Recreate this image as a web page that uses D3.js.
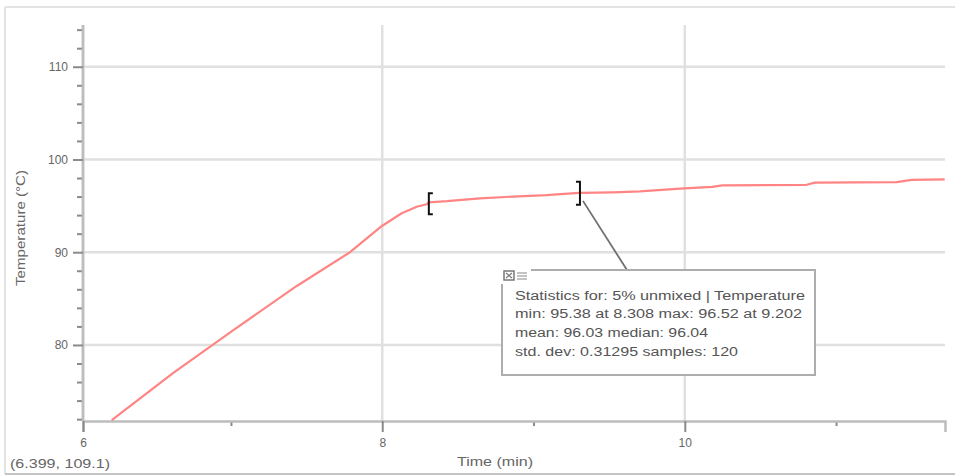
<!DOCTYPE html>
<html>
<head>
<meta charset="utf-8">
<script src="https://cdn.jsdelivr.net/npm/d3@7"></script>
<style>
  html, body { margin: 0; padding: 0; background: #fff; }
  svg { display: block; font-family: "Liberation Sans", Arial, sans-serif; }
</style>
</head>
<body>
<svg id="chart" width="955" height="476"></svg>
<script>
// ---- data ----
const timeMin = [6.212, 6.619, 7.016, 7.435, 7.787, 7.998, 8.129, 8.228, 8.294, 8.308,
                 8.428, 8.646, 8.864, 9.089, 9.202, 9.307, 9.525, 9.703, 9.968, 10.18, 10.25, 10.80, 10.86, 11.40, 11.50, 11.718];
const temperature = [71.9, 77.0, 81.6, 86.36, 90.0, 92.83, 94.2, 94.9, 95.17, 95.38,
                     95.5, 95.8, 96.0, 96.15, 96.3, 96.4, 96.45, 96.55, 96.85, 97.05, 97.2, 97.25, 97.5, 97.55, 97.8, 97.85];
const yMajorTicks = [80, 90, 100, 110];
const yMinorTicks = [72, 74, 76, 78, 82, 84, 86, 88, 92, 94, 96, 98, 102, 104, 106, 108, 112, 114];
const xMajorTicks = [6, 8, 10];
const xMinorTicks = [7, 9, 11];
const statRange = [8.308, 9.307];
const statLines = [
  "Statistics for: 5% unmixed | Temperature",
  "min: 95.38 at 8.308 max: 96.52 at 9.202",
  "mean: 96.03 median: 96.04",
  "std. dev: 0.31295 samples: 120"
];
const yLabel = "Temperature (°C)";
const xLabel = "Time (min)";
const cursorLabel = "(6.399, 109.1)";

// ---- layout ----
const svg = d3.select("#chart");
const x = d3.scaleLinear().domain([6.022, 11.72]).range([83, 945]).clamp(true);
const y = d3.scaleLinear().domain([71.8, 114.5]).range([421, 25]);
const textCol = "#666";

// outer frame
svg.append("line").attr("x1", 5).attr("x2", 955).attr("y1", 7).attr("y2", 7)
  .attr("stroke", "#e3e3e3").attr("stroke-width", 2);
svg.append("line").attr("x1", 5).attr("x2", 5).attr("y1", 7).attr("y2", 474)
  .attr("stroke", "#e3e3e3").attr("stroke-width", 2);
svg.append("line").attr("x1", 5).attr("x2", 955).attr("y1", 474).attr("y2", 474)
  .attr("stroke", "#c4c4c4").attr("stroke-width", 2);

// gridlines
const grid = svg.append("g");
grid.selectAll("line.h").data(yMajorTicks).join("line").attr("class", "h")
  .attr("x1", 83).attr("x2", 945).attr("y1", d => y(d)).attr("y2", d => y(d))
  .attr("stroke", "#e0e0e0").attr("stroke-width", 2.5);
grid.selectAll("line.v").data(xMajorTicks.filter(d => d > 6)).join("line").attr("class", "v")
  .attr("x1", d => x(d)).attr("x2", d => x(d)).attr("y1", 25).attr("y2", 421)
  .attr("stroke", "#e0e0e0").attr("stroke-width", 2.5);

// y axis
const yAxisMinor = svg.append("g").attr("transform", "translate(83,0)")
  .call(d3.axisLeft(y).tickValues(yMinorTicks).tickSize(6).tickFormat(""));
const yAxis = svg.append("g").attr("transform", "translate(83,0)")
  .call(d3.axisLeft(y).tickValues(yMajorTicks).tickSize(10).tickPadding(5).tickFormat(d3.format("d")));
// x axis
const xAxisMinor = svg.append("g").attr("transform", "translate(0,421)")
  .call(d3.axisBottom(x).tickValues(xMinorTicks).tickSize(5).tickFormat(""));
const xAxis = svg.append("g").attr("transform", "translate(0,421)")
  .call(d3.axisBottom(x).tickValues(xMajorTicks).tickSize(11).tickPadding(6).tickFormat(d3.format("d")));

[yAxis, yAxisMinor, xAxis, xAxisMinor].forEach(g => {
  g.select(".domain").attr("stroke", "#bdbdbd").attr("stroke-width", 2.5);
  g.selectAll(".tick line").attr("stroke", "#8a8a8a").attr("stroke-width", 2);
  g.selectAll(".tick text").attr("fill", textCol).attr("font-size", 12)
    .attr("font-family", "Liberation Sans, Arial, sans-serif");
});
yAxis.select(".domain").attr("d", "M0,25V421");
yAxisMinor.select(".domain").attr("d", "M0,25V421");
xAxisMinor.select(".domain").remove();

// axis labels
svg.append("text").attr("transform", "translate(22,228) rotate(-90)")
  .attr("text-anchor", "middle").attr("dominant-baseline", "middle")
  .attr("font-size", 12).attr("fill", textCol)
  .attr("textLength", 116).attr("lengthAdjust", "spacingAndGlyphs").text(yLabel);
svg.append("text").attr("x", 495).attr("y", 463)
  .attr("text-anchor", "middle").attr("dominant-baseline", "middle")
  .attr("font-size", 12).attr("fill", textCol)
  .attr("textLength", 76).attr("lengthAdjust", "spacingAndGlyphs").text(xLabel);
svg.append("text").attr("x", 10).attr("y", 465)
  .attr("dominant-baseline", "middle")
  .attr("font-size", 12).attr("fill", textCol)
  .attr("textLength", 100).attr("lengthAdjust", "spacingAndGlyphs").text(cursorLabel);

// data line
const line = d3.line().x((d, i) => x(timeMin[i])).y(d => y(d));
svg.append("path").datum(temperature)
  .attr("d", line).attr("fill", "none")
  .attr("stroke", "#ff8585").attr("stroke-width", 2.2)
  .attr("stroke-linejoin", "round");

// range brackets
const bx0 = x(statRange[0]), bx1 = x(statRange[1]);
const by0 = y(95.4), by1 = y(96.4);
svg.append("path")
  .attr("d", `M${bx0 + 4},${by0 - 9}H${bx0}V${by0 + 12}H${bx0 + 4}`)
  .attr("fill", "none").attr("stroke", "#111").attr("stroke-width", 2);
svg.append("path")
  .attr("d", `M${bx1 - 4},${by1 - 11}H${bx1}V${by1 + 12}H${bx1 - 4}`)
  .attr("fill", "none").attr("stroke", "#111").attr("stroke-width", 2);

// callout line
svg.append("line").attr("x1", bx1 + 3).attr("y1", by1 + 8).attr("x2", 627).attr("y2", 270)
  .attr("stroke", "#707070").attr("stroke-width", 1.8);

// stats box
const box = svg.append("g");
box.append("rect").attr("x", 502).attr("y", 270).attr("width", 313).attr("height", 105)
  .attr("fill", "#fff").attr("stroke", "#adadad").attr("stroke-width", 2);
// little icon in top-left corner
box.append("rect").attr("x", 501).attr("y", 268).attr("width", 30).attr("height", 16).attr("fill", "#fff");
box.append("rect").attr("x", 504).attr("y", 271).attr("width", 10).attr("height", 9)
  .attr("fill", "none").attr("stroke", "#777").attr("stroke-width", 1.5);
box.append("path").attr("d", "M506,273L512,278M512,273L506,278")
  .attr("stroke", "#777").attr("stroke-width", 1.2);
box.append("path").attr("d", "M517,273H527M517,276H527M517,279H527")
  .attr("stroke", "#888").attr("stroke-width", 1.2);
box.append("line").attr("x1", 502).attr("x2", 502).attr("y1", 284).attr("y2", 375)
  .attr("stroke", "#adadad").attr("stroke-width", 2);
const lineWidths = [290, 287, 193, 223];
const lineYs = [297, 315, 334, 353];
box.selectAll("text.stat").data(statLines).join("text").attr("class", "stat")
  .attr("x", 515).attr("y", (d, i) => lineYs[i])
  .attr("dominant-baseline", "middle")
  .attr("font-size", 12).attr("fill", "#555")
  .attr("textLength", (d, i) => lineWidths[i]).attr("lengthAdjust", "spacingAndGlyphs")
  .text(d => d);
</script>
</body>
</html>
